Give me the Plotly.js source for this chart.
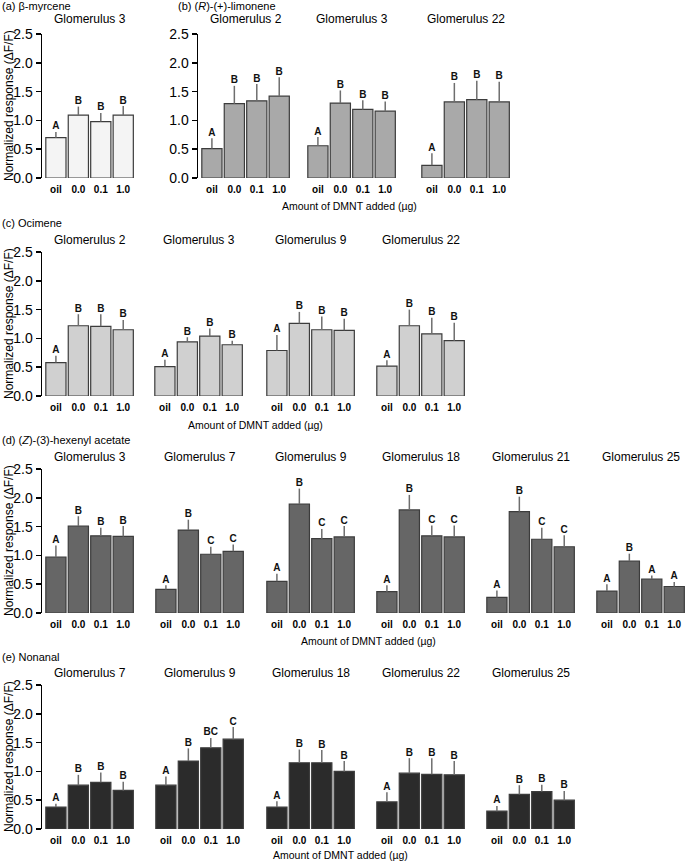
<!DOCTYPE html>
<html>
<head>
<meta charset="utf-8">
<script src="https://cdn.plot.ly/plotly-3.0.1.min.js"></script>
<style>body{margin:0;background:#fff}</style>
</head>
<body>
<div id="chart" style="width:685px;height:861px"></div>
<script>
var doses = ['oil', '0.0', '0.1', '1.0'];

// (a) beta-myrcene
var myrG3 = [0.70, 1.09, 0.98, 1.09];
var myrG3Se = [0.10, 0.15, 0.15, 0.16];
var myrG3Sig = ['A', 'B', 'B', 'B'];

// (b) (R)-(+)-limonene
var limG2 = [0.51, 1.29, 1.34, 1.42];
var limG2Se = [0.18, 0.31, 0.29, 0.33];
var limG2Sig = ['A', 'B', 'B', 'B'];
var limG3 = [0.56, 1.30, 1.19, 1.16];
var limG3Se = [0.15, 0.22, 0.16, 0.17];
var limG3Sig = ['A', 'B', 'B', 'B'];
var limG22 = [0.22, 1.32, 1.36, 1.32];
var limG22Se = [0.21, 0.33, 0.33, 0.35];
var limG22Sig = ['A', 'B', 'B', 'B'];

// (c) ocimene
var ociG2 = [0.58, 1.22, 1.21, 1.15];
var ociG2Se = [0.12, 0.20, 0.21, 0.17];
var ociG2Sig = ['A', 'B', 'B', 'B'];
var ociG3 = [0.51, 0.94, 1.04, 0.89];
var ociG3Se = [0.12, 0.08, 0.13, 0.07];
var ociG3Sig = ['A', 'B', 'B', 'B'];
var ociG9 = [0.79, 1.26, 1.15, 1.14];
var ociG9Se = [0.27, 0.20, 0.23, 0.20];
var ociG9Sig = ['A', 'B', 'B', 'B'];
var ociG22 = [0.52, 1.22, 1.08, 0.96];
var ociG22Se = [0.10, 0.28, 0.28, 0.31];
var ociG22Sig = ['A', 'B', 'B', 'B'];

// (d) (Z)-3-hexenyl acetate
var hexG3 = [0.97, 1.51, 1.34, 1.33];
var hexG3Se = [0.20, 0.17, 0.14, 0.18];
var hexG3Sig = ['A', 'B', 'B', 'B'];
var hexG7 = [0.41, 1.44, 1.02, 1.07];
var hexG7Se = [0.07, 0.18, 0.13, 0.12];
var hexG7Sig = ['A', 'B', 'C', 'C'];
var hexG9 = [0.55, 1.89, 1.29, 1.32];
var hexG9Se = [0.13, 0.27, 0.17, 0.19];
var hexG9Sig = ['A', 'B', 'C', 'C'];
var hexG18 = [0.37, 1.79, 1.34, 1.32];
var hexG18Se = [0.11, 0.26, 0.18, 0.20];
var hexG18Sig = ['A', 'B', 'C', 'C'];
var hexG21 = [0.27, 1.76, 1.28, 1.15];
var hexG21Se = [0.12, 0.26, 0.20, 0.20];
var hexG21Sig = ['A', 'B', 'C', 'C'];
var hexG25 = [0.38, 0.90, 0.59, 0.46];
var hexG25Se = [0.12, 0.13, 0.06, 0.08];
var hexG25Sig = ['A', 'B', 'A', 'A'];

// (e) nonanal
var nonG7 = [0.38, 0.76, 0.81, 0.67];
var nonG7Se = [0.06, 0.18, 0.17, 0.15];
var nonG7Sig = ['A', 'B', 'B', 'B'];
var nonG9 = [0.76, 1.18, 1.41, 1.56];
var nonG9Se = [0.15, 0.22, 0.17, 0.21];
var nonG9Sig = ['A', 'B', 'BC', 'C'];
var nonG18 = [0.38, 1.15, 1.15, 1.00];
var nonG18Se = [0.10, 0.23, 0.22, 0.18];
var nonG18Sig = ['A', 'B', 'B', 'B'];
var nonG22 = [0.47, 0.97, 0.95, 0.94];
var nonG22Se = [0.17, 0.26, 0.28, 0.24];
var nonG22Sig = ['A', 'B', 'B', 'B'];
var nonG25 = [0.31, 0.60, 0.65, 0.50];
var nonG25Se = [0.09, 0.16, 0.12, 0.16];
var nonG25Sig = ['A', 'B', 'B', 'B'];

var panels = [
  {row: 'a', title: 'Glomerulus 3', y: myrG3, se: myrG3Se, sig: myrG3Sig},
  {row: 'b', title: 'Glomerulus 2', y: limG2, se: limG2Se, sig: limG2Sig},
  {row: 'b', title: 'Glomerulus 3', y: limG3, se: limG3Se, sig: limG3Sig},
  {row: 'b', title: 'Glomerulus 22', y: limG22, se: limG22Se, sig: limG22Sig},
  {row: 'c', title: 'Glomerulus 2', y: ociG2, se: ociG2Se, sig: ociG2Sig},
  {row: 'c', title: 'Glomerulus 3', y: ociG3, se: ociG3Se, sig: ociG3Sig},
  {row: 'c', title: 'Glomerulus 9', y: ociG9, se: ociG9Se, sig: ociG9Sig},
  {row: 'c', title: 'Glomerulus 22', y: ociG22, se: ociG22Se, sig: ociG22Sig},
  {row: 'd', title: 'Glomerulus 3', y: hexG3, se: hexG3Se, sig: hexG3Sig},
  {row: 'd', title: 'Glomerulus 7', y: hexG7, se: hexG7Se, sig: hexG7Sig},
  {row: 'd', title: 'Glomerulus 9', y: hexG9, se: hexG9Se, sig: hexG9Sig},
  {row: 'd', title: 'Glomerulus 18', y: hexG18, se: hexG18Se, sig: hexG18Sig},
  {row: 'd', title: 'Glomerulus 21', y: hexG21, se: hexG21Se, sig: hexG21Sig},
  {row: 'd', title: 'Glomerulus 25', y: hexG25, se: hexG25Se, sig: hexG25Sig},
  {row: 'e', title: 'Glomerulus 7', y: nonG7, se: nonG7Se, sig: nonG7Sig},
  {row: 'e', title: 'Glomerulus 9', y: nonG9, se: nonG9Se, sig: nonG9Sig},
  {row: 'e', title: 'Glomerulus 18', y: nonG18, se: nonG18Se, sig: nonG18Sig},
  {row: 'e', title: 'Glomerulus 22', y: nonG22, se: nonG22Se, sig: nonG22Sig},
  {row: 'e', title: 'Glomerulus 25', y: nonG25, se: nonG25Se, sig: nonG25Sig}
];

// pixel geometry of each row (page is 685 x 861)
var W = 685, H = 861, PW = 92;
var FONT = 'Liberation Sans, Arial, Helvetica, sans-serif';
var rows = {
  a: {top: 34, bot: 178, fill: '#f4f4f4', lefts: [42], titleY: 19},
  b: {top: 34, bot: 178, fill: '#a9a9a9', lefts: [198, 304, 418], titleY: 19},
  c: {top: 252, bot: 396, fill: '#d0d0d0', lefts: [42, 151, 263, 373], titleY: 240},
  d: {top: 469, bot: 613, fill: '#666666', lefts: [42, 152, 263, 373, 483, 593], titleY: 457},
  e: {top: 685, bot: 829, fill: '#2b2b2b', lefts: [42, 152, 263, 373, 483], titleY: 673}
};

var data = [];
var layout = {
  width: W, height: H,
  margin: {l: 0, r: 0, t: 0, b: 0},
  paper_bgcolor: '#fff', plot_bgcolor: 'rgba(0,0,0,0)',
  showlegend: false,
  bargap: 0.1,
  font: {family: FONT, color: '#000'},
  annotations: []
};

function px(x) { return x / W; }
function py(y) { return 1 - y / H; }
function note(text, x, y, size, xanchor, angle) {
  layout.annotations.push({
    text: text, xref: 'paper', yref: 'paper', x: px(x), y: py(y),
    xanchor: xanchor || 'center', yanchor: 'middle', showarrow: false,
    textangle: angle || 0, font: {size: size, family: FONT, color: '#000'}
  });
}

var colCount = {};
panels.forEach(function (p, i) {
  var n = i + 1, s = n === 1 ? '' : String(n);
  var r = rows[p.row];
  var col = colCount[p.row] || 0;
  colCount[p.row] = col + 1;
  var left = r.lefts[col];
  var tops = p.y.map(function (v, k) { return v + p.se[k]; });

  data.push({
    type: 'bar', x: doses, y: p.y, xaxis: 'x' + s, yaxis: 'y' + s,
    marker: {color: r.fill, line: {color: '#3c3c3c', width: 1.2}},
    error_y: {type: 'data', symmetric: false, array: p.se, arrayminus: [0, 0, 0, 0],
              color: '#6e6e6e', thickness: 1.5, width: 0},
    hoverinfo: 'skip'
  });
  data.push({
    type: 'scatter', mode: 'text', x: doses, y: tops, text: p.sig,
    xaxis: 'x' + s, yaxis: 'y' + s, textposition: 'top center',
    textfont: {size: 10, family: FONT, weight: 'bold', color: '#111'},
    cliponaxis: false, hoverinfo: 'skip'
  });

  layout['xaxis' + s] = {
    domain: [px(left), px(left + PW)], anchor: 'y' + s,
    type: 'category', range: [-0.62, 3.48],
    showline: false, showgrid: false, zeroline: false, ticks: '',
    ticklabelstandoff: 4,
    tickfont: {size: 10, family: FONT, weight: 'bold'}, fixedrange: true
  };
  layout['yaxis' + s] = {
    domain: [py(r.bot), py(r.top)], anchor: 'x' + s, range: [0, 2.5],
    visible: col === 0, showgrid: false, zeroline: false,
    showline: true, linecolor: '#000', linewidth: 1.5,
    ticks: 'outside', ticklen: 5, tickwidth: 1.5, tickcolor: '#000',
    tickvals: [0, 0.5, 1, 1.5, 2, 2.5], tickformat: '.1f',
    tickfont: {size: 14, family: FONT}, fixedrange: true
  };

  note(p.title, left + 48, r.titleY, 12);
});

// section titles
note('(a) β-myrcene', 0, 6, 11, 'left');
note('(b) (<i>R</i>)-(+)-limonene', 176, 6, 11, 'left');
note('(c) Ocimene', 0, 223, 11, 'left');
note('(d) (<i>Z</i>)-(3)-hexenyl acetate', 0, 440, 11, 'left');
note('(e) Nonanal', 0, 657, 11, 'left');

// y titles
var yTitle = 'Normalized response (ΔF/F)';
[106, 324, 541, 757].forEach(function (yc) { note(yTitle, 9, yc, 12, 'center', -90); });

// x titles
var xTitle = 'Amount of DMNT added (µg)';
note(xTitle, 349, 206, 10.5);
note(xTitle, 256, 425, 10.5);
note(xTitle, 368, 641, 10.5);
note(xTitle, 340, 855, 10.5);

Plotly.newPlot('chart', data, layout, {displayModeBar: false, staticPlot: true});
</script>
</body>
</html>
